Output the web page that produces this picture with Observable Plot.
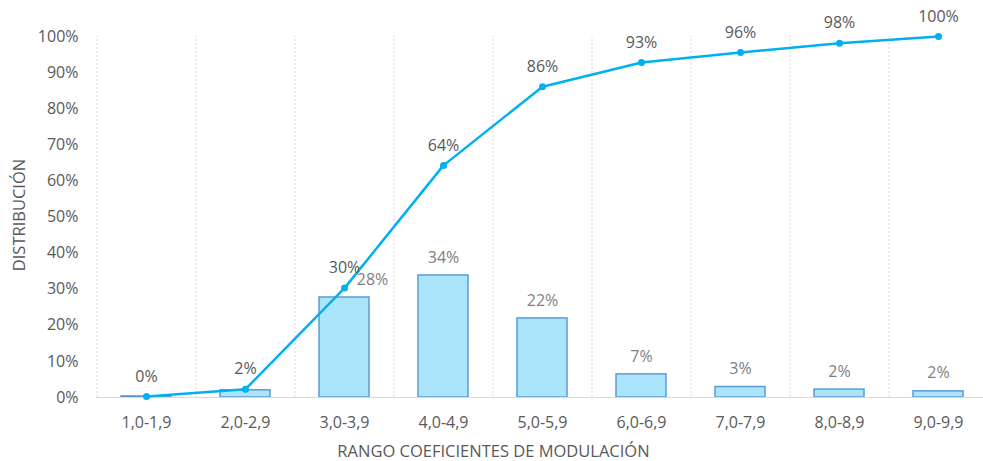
<!DOCTYPE html>
<html><head><meta charset="utf-8">
<script src="https://cdn.jsdelivr.net/npm/d3@7"></script>
<script src="https://cdn.jsdelivr.net/npm/@observablehq/plot@0.6"></script>
<style>body{margin:0;background:#fff} svg{display:block}</style>
</head><body><div id="chart"></div>
<script>
const categories = ["1,0-1,9","2,0-2,9","3,0-3,9","4,0-4,9","5,0-5,9","6,0-6,9","7,0-7,9","8,0-8,9","9,0-9,9"];
const binShare = [0.3, 2.0, 27.7, 33.8, 21.9, 6.4, 2.9, 2.2, 1.7];
const cumulative = [0.3, 2.3, 30.3, 64.3, 86.1, 92.8, 95.6, 98.1, 100];
const binLabels = ["0%","2%","28%","34%","22%","7%","3%","2%","2%"];
const cumLabels = ["0%","2%","30%","64%","86%","93%","96%","98%","100%"];
const yTicks = [0,10,20,30,40,50,60,70,80,90,100];
const yTitle = "DISTRIBUCIÓN";
const xTitle = "RANGO COEFICIENTES DE MODULACIÓN";

const W = 983, H = 461;
const xLeft = 96.5, xRight = 987.5;
const step = (xRight - xLeft) / categories.length;
const idx = categories.map((_, i) => i);
const barLabelIdx = idx.filter(i => i >= 2);
const FONT = "'Open Sans', sans-serif";

const chart = Plot.plot({
  width: W, height: H,
  marginLeft: 96, marginRight: 0, marginTop: 36, marginBottom: 64,
  x: {domain: categories, range: [xLeft, xRight], paddingInner: 0.5, paddingOuter: 0.25, label: null},
  y: {domain: [0, 100], label: null},
  style: {fontFamily: FONT, color: "#595959", background: "white"},
  marks: [
    Plot.ruleX(categories, {x: d => d, dx: -step / 2, y1: 0, y2: 100, stroke: "#d9d9d9", strokeDasharray: "2,2"}),
    Plot.barY(idx, {x: i => categories[i], y: i => binShare[i], fill: "#abe5fb", stroke: "#5b9bd5", strokeWidth: 1.5}),
    Plot.ruleY([0], {stroke: "#d9d9d9", strokeWidth: 1}),
    Plot.line(idx, {x: i => categories[i], y: i => cumulative[i], stroke: "#00b0f0", strokeWidth: 2.5}),
    Plot.dot(idx, {x: i => categories[i], y: i => cumulative[i], r: 3.5, fill: "#00b0f0"}),
    Plot.text(idx, {x: i => categories[i], y: i => cumulative[i], text: i => cumLabels[i], dy: -20, fill: "#595959", fontSize: 16}),
    Plot.text(barLabelIdx.filter(i => i !== 2), {x: i => categories[i], y: i => binShare[i], text: i => binLabels[i], dy: -18, fill: "#7f7f7f", fontSize: 16}),
    Plot.text([2], {x: i => categories[i], y: i => binShare[i], text: i => binLabels[i], dx: 28, dy: -18, fill: "#7f7f7f", fontSize: 16}),
    Plot.axisY({ticks: yTicks, tickFormat: d => d + "%", tickSize: 0, tickPadding: 18, fontSize: 16, label: null}),
    Plot.axisX({tickSize: 0, tickPadding: 19, fontSize: 16, label: null})
  ]
});

const svg = d3.select(chart);
svg.append("text")
  .attr("transform", "translate(19," + 215 + ") rotate(-90)")
  .attr("text-anchor", "middle").attr("dy", "0.35em")
  .attr("fill", "#595959").attr("font-size", 16.5)
  .attr("font-family", FONT)
  .text(yTitle);
svg.append("text")
  .attr("x", W / 2 + 2).attr("y", 451)
  .attr("text-anchor", "middle").attr("dy", "0.35em")
  .attr("fill", "#595959").attr("font-size", 16.5)
  .attr("font-family", FONT)
  .text(xTitle);

document.getElementById("chart").appendChild(chart);
</script>
</body></html>
